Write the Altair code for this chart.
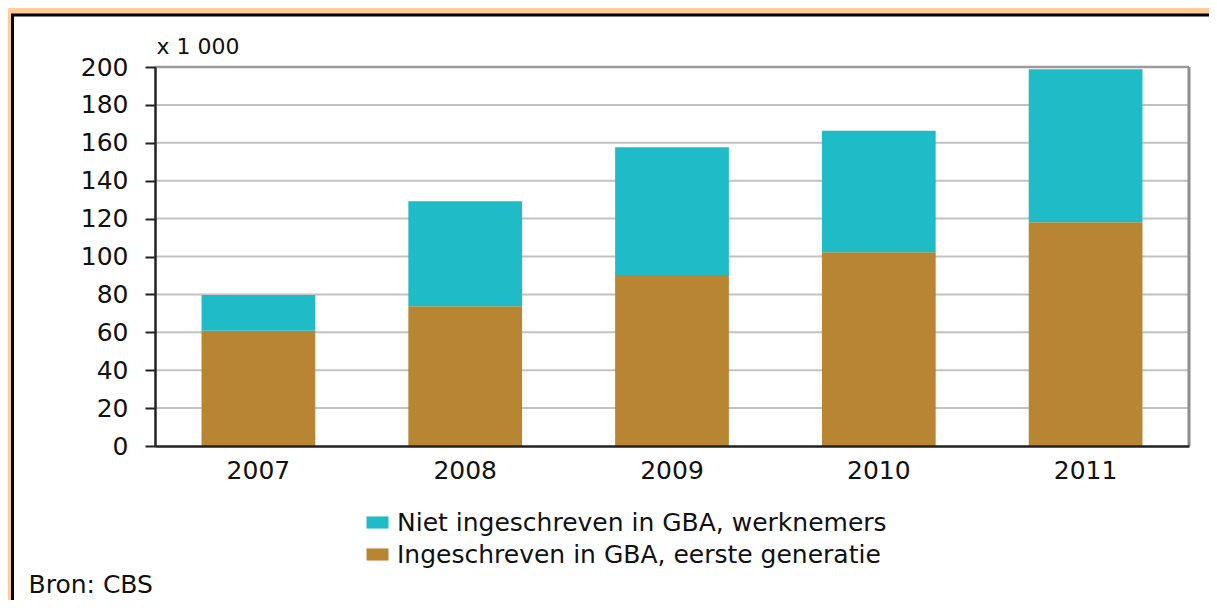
import altair as alt
import pandas as pd

# ---- data ----
years = ["2007", "2008", "2009", "2010", "2011"]
ingeschreven = [60.8, 73.8, 90.3, 102.3, 118.1]
niet_ingeschreven = [18.9, 55.4, 67.3, 64.0, 80.7]
series = ["Niet ingeschreven in GBA, werknemers", "Ingeschreven in GBA, eerste generatie"]
series_colors = ["#1FBBC6", "#B88532"]
grid_values = [20, 40, 60, 80, 100, 120, 140, 160, 180]
top_value = [200]
y_tick_values = [0, 20, 40, 60, 80, 100, 120, 140, 160, 180, 200]

rows = []
for i, yr in enumerate(years):
    rows.append({"jaar": yr, "reeks": series[1], "waarde": ingeschreven[i], "volgorde": 0})
    rows.append({"jaar": yr, "reeks": series[0], "waarde": niet_ingeschreven[i], "volgorde": 1})
df = pd.DataFrame(rows)

W, H = 1034, 379
FONT = "DejaVu Sans"
FS = 25
yscale = alt.Scale(domain=[0, 200], nice=False)

yaxis = alt.Axis(
    values=y_tick_values, title="x 1 000", titleAngle=0, titleX=1, titleY=-14,
    titleAlign="left", titleBaseline="alphabetic", titleFont=FONT,
    titleFontSize=22, titleFontWeight="normal", titleColor="#111",
    labelFont=FONT, labelFontSize=FS, labelColor="#111", labelPadding=17,
    labelOverlap=False,
    tickSize=10, tickColor="#222", tickWidth=2,
    domainColor="#222", domainWidth=2.5, grid=False, zindex=1,
)

panel = alt.Chart(pd.DataFrame({"p": [0]})).mark_rect(
    fill="white", stroke="black", strokeWidth=3
).encode(
    x=alt.value(-142.5), x2=alt.value(W + 400),
    y=alt.value(-52), y2=alt.value(H + 400),
)

grid = alt.Chart(pd.DataFrame({"waarde": grid_values})).mark_rule(
    color="#C2C2C2", strokeWidth=2
).encode(y=alt.Y("waarde:Q", scale=yscale, axis=yaxis))

top = alt.Chart(pd.DataFrame({"waarde": top_value})).mark_rule(
    color="#9A9A9A", strokeWidth=2.5
).encode(y=alt.Y("waarde:Q", scale=yscale, axis=yaxis))

right = alt.Chart(pd.DataFrame({"p": [0]})).mark_rule(
    color="#8E8E8E", strokeWidth=3
).encode(x=alt.value(W), y=alt.value(0), y2=alt.value(H))

bars = alt.Chart(df).mark_bar().encode(
    x=alt.X(
        "jaar:N",
        sort=years,
        scale=alt.Scale(paddingInner=0.45, paddingOuter=0.225),
        axis=alt.Axis(
            title="Bron: CBS", titleX=-127, titleY=146, titleAlign="left",
            titleBaseline="alphabetic", titleFont=FONT, titleFontSize=FS,
            titleFontWeight="normal", titleColor="#111",
            labelAngle=0, labelFont=FONT, labelFontSize=FS, labelColor="#111",
            labelPadding=12, ticks=False, tickSize=0,
            domainColor="#222", domainWidth=2.5, grid=False, zindex=1,
        ),
    ),
    y=alt.Y("waarde:Q", stack="zero", scale=yscale, axis=yaxis),
    color=alt.Color(
        "reeks:N",
        scale=alt.Scale(domain=series, range=series_colors),
        legend=alt.Legend(
            title=None, orient="none", legendX=210, legendY=443, padding=0,
            symbolType="M-1,-0.55H1V0.55H-1Z", symbolSize=484, symbolStrokeWidth=0,
            labelFont=FONT, labelFontSize=FS, labelColor="#111", labelOffset=7,
            labelLimit=900, rowPadding=6,
        ),
    ),
    order=alt.Order("volgorde:Q"),
)

chart = alt.layer(panel, grid, top, bars, right).properties(
    width=W, height=H,
    padding={"left": 147, "top": 59, "right": 20, "bottom": 154},
    autosize=alt.AutoSizeParams(type="none"),
    background="#FFCC99",
).configure_view(stroke=None)

chart.save("out.html", embed_options={"renderer": "svg", "actions": False})
